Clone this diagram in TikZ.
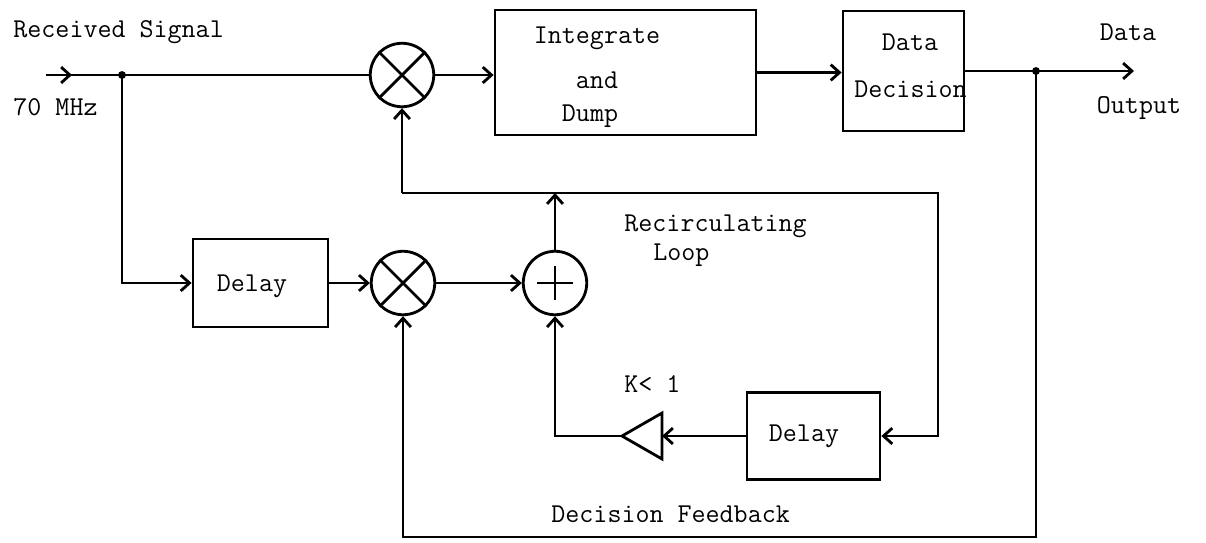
\documentclass[tikz,border=0pt]{standalone}
\usetikzlibrary{arrows.meta,calc}
\begin{document}
\begin{tikzpicture}[x=0.02cm,y=-0.02cm,
  line width=1.6pt,
  >={Straight Barb[length=5pt,width=9pt]},
  box/.style={draw,rectangle,inner sep=0pt},
  sumnode/.style={draw,circle,inner sep=0pt,minimum size=1.27cm},
  lbl/.style={font=\fontsize{15.5}{18}\selectfont\ttfamily,inner sep=0pt},
  dot/.style={circle,fill,inner sep=0pt,minimum size=4.5pt}]
\useasboundingbox (0,0) rectangle (1206,542);
% blocks
\node[sumnode] (mulT) at (402,75) {};
\node[box,minimum width=5.22cm,minimum height=2.5cm] (integ) at (625.5,72.5) {};
\node[box,minimum width=2.42cm,minimum height=2.4cm] (dec) at (903.5,71) {};
\node[box,minimum width=2.7cm,minimum height=1.76cm] (delayA) at (260.5,283) {};
\node[sumnode] (mulB) at (403,283) {};
\node[sumnode] (add) at (555,283) {};
\node[box,minimum width=2.66cm,minimum height=1.74cm] (delayB) at (813.5,436) {};
% symbols in circles
\draw (mulT.45) -- (mulT.225) (mulT.135) -- (mulT.315);
\draw (mulB.45) -- (mulB.225) (mulB.135) -- (mulB.315);
\draw ($(add.center)+(-18,0)$) -- ($(add.center)+(18,0)$)
      ($(add.center)+(0,-17)$) -- ($(add.center)+(0,17)$);
% amplifier triangle
\coordinate (ampTip) at (622,436);
\coordinate (ampBase) at (662,436);
\draw (ampTip) -- (662,413) -- (662,459) -- cycle;
% coordinates
\coordinate (inA) at (46,75);
\coordinate (J1) at (122,75);
\coordinate (J2) at (1036,71);
\coordinate (outE) at (1134,71);
\coordinate (L1) at (402,193);
\coordinate (L2) at (938,193);
\coordinate (B1) at (1036,537);
\coordinate (B2) at (403,537);
\coordinate (A1) at (555,193);
% connectors
\draw (inA) -- (mulT.west);
\draw[->] (inA) -- ++(26,0);
\node[dot] (j1dot) at (J1) {};
\draw[->] (J1) |- (delayA.west);
\draw[->] (mulT.east) -- (mulT.east -| integ.west);
\draw[->] (integ.east) -- (integ.east -| dec.west);
\draw[->] (dec.east) -- (outE);
\node[dot] (j2dot) at (J2) {};
\draw[->] (J2) -- (B1) -- (B2) -- (mulB.south);
\draw[->] (delayA.east) -- (mulB.west);
\draw[->] (mulB.east) -- (add.west);
\draw[->] (add.north) -- (A1);
\draw[->] (L1) -- (mulT.south);
\draw[->] (L1) -- (L2) |- (delayB.east);
\draw[->] (delayB.west) -- (ampBase);
\draw[->] (ampTip) -| (add.south);
% labels
\node[lbl,anchor=base west] (tRec) at (12,37) {Received Signal};
\node[lbl,anchor=base west] (tMHz) at (12,115) {70 MHz};
\node[lbl,anchor=base] (tInt) at (597,43) {Integrate};
\node[lbl,anchor=base] (tAnd) at (597,88) {and};
\node[lbl,anchor=base] (tDump) at (590,121) {Dump};
\node[lbl,anchor=base] (tData) at (910,50) {Data};
\node[lbl,anchor=base west] (tDeci) at (853,97) {Decision};
\node[lbl,anchor=base] (tOD) at (1128,40) {Data};
\node[lbl,anchor=base] (tOO) at (1139,113) {Output};
\node[lbl,anchor=base] (tDelA) at (252,291) {Delay};
\node[lbl,anchor=base west] (tRecirc) at (623,231) {Recirculating};
\node[lbl,anchor=base west] (tLoop) at (652,260) {Loop};
\node[lbl,anchor=base west] (tK) at (623,392) {K< 1};
\node[lbl,anchor=base] (tDelB) at (804,441) {Delay};
\node[lbl,anchor=base west] (tDF) at (550,522) {Decision Feedback};
\end{tikzpicture}
\end{document}
